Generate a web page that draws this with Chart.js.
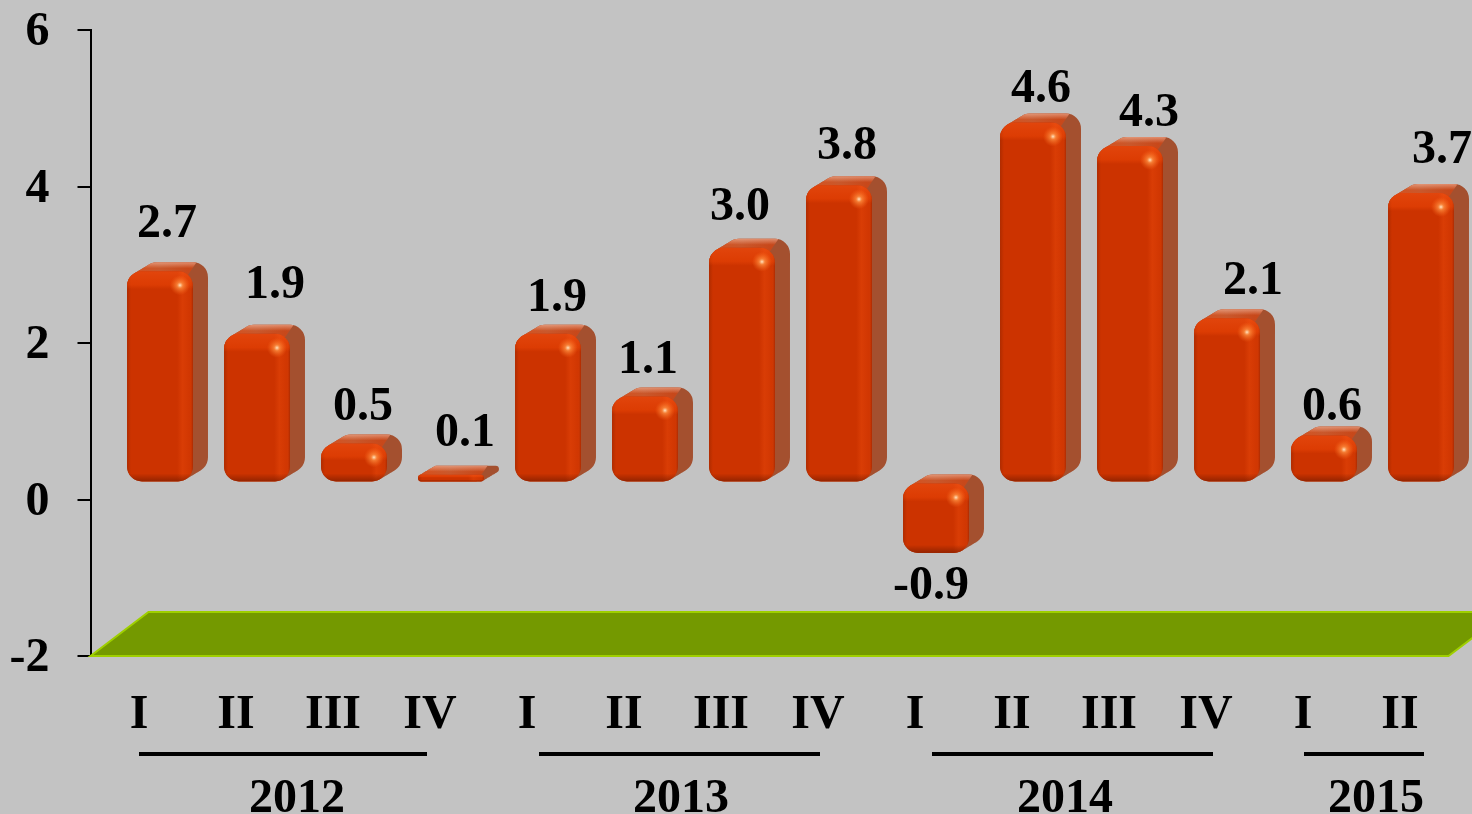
<!DOCTYPE html>
<html>
<head>
<meta charset="utf-8">
<script src="https://cdn.jsdelivr.net/npm/chart.js@4"></script>
<style>
    html, body { margin: 0; padding: 0; background: #c3c3c3; overflow: hidden; }
    canvas { display: block; }
</style>
</head>
<body>
<canvas id="chart" width="1472" height="814"></canvas>
<script>
var quarters = ['I', 'II', 'III', 'IV', 'I', 'II', 'III', 'IV', 'I', 'II', 'III', 'IV', 'I', 'II'];
var growth = [2.7, 1.9, 0.5, 0.1, 1.9, 1.1, 3.0, 3.8, -0.9, 4.6, 4.3, 2.1, 0.6, 3.7];
var years = ['2012', '2013', '2014', '2015'];

var FONT_FAMILY = '"Liberation Serif", serif';
// labels in the picture are nudged by hand, so each one has its own [dx, dy] from the bar end
var labelNudge = [[7, -47], [18, -48], [9, -36], [14, -41], [9, -35], [3, -36], [-2, -40], [8, -39],
    [-5, 34], [8, -33], [19, -32], [26, -37], [8, -28], [21, -42]];
var yearCenters = [297, 681, 1065, 1376];
var yearRules = [[139, 427], [539, 820], [932, 1213], [1304, 1424]];

// front faces sit up and to the right of the axis position
var SHIFT_X = 21, SHIFT_Y = -17;
var DEPTH_X = 15, DEPTH_Y = -9;
var RADIUS = 15;

function barBox(bar) {
    var top = Math.min(bar.y, bar.base);
    var bottom = Math.max(bar.y, bar.base);
    var left = bar.x - bar.width / 2;
    var right = bar.x + bar.width / 2;
    return {
        left: left, right: right, top: top, bottom: bottom,
        r: Math.min(RADIUS, (bottom - top) / 2)
    };
}

function drawDepth(ctx, b) {
    // sweep the front shape backwards to get the side and the top
    ctx.beginPath();
    for (var i = 0; i <= DEPTH_X; i++) {
        var dy = DEPTH_Y * i / DEPTH_X;
        ctx.roundRect(b.left + i, b.top + dy, b.right - b.left, b.bottom - b.top, b.r);
    }
    ctx.fillStyle = '#a4502f';
    ctx.fill();

    ctx.save();
    ctx.clip();
    ctx.beginPath();
    ctx.moveTo(b.left - 2, b.top + DEPTH_Y - 2);
    ctx.lineTo(b.right + DEPTH_X - 10, b.top + DEPTH_Y - 2);
    ctx.lineTo(b.right - 8, b.top + 8);
    ctx.lineTo(b.left - 2, b.top + 14);
    ctx.closePath();
    var grad = ctx.createLinearGradient(b.left, 0, b.right + DEPTH_X, 0);
    grad.addColorStop(0, '#d9501c');
    grad.addColorStop(0.4, '#c9582c');
    grad.addColorStop(0.75, '#c8481a');
    grad.addColorStop(1, '#b9502a');
    ctx.fillStyle = grad;
    ctx.fill();
    // pale rim along the back edge of the top face
    var rim = ctx.createLinearGradient(0, b.top + DEPTH_Y, 0, b.top + DEPTH_Y + 6);
    rim.addColorStop(0, 'rgba(255,225,210,0.45)');
    rim.addColorStop(1, 'rgba(255,225,210,0)');
    ctx.fillStyle = rim;
    ctx.fill();
    ctx.restore();
}

function drawBevel(ctx, b) {
    var w = b.right - b.left;
    var h = b.bottom - b.top;
    ctx.save();
    ctx.beginPath();
    ctx.roundRect(b.left, b.top, w, h, b.r);
    ctx.clip();

    var across = ctx.createLinearGradient(b.left, 0, b.right, 0);
    across.addColorStop(0, 'rgba(140,35,0,0.45)');
    across.addColorStop(0.06, 'rgba(140,35,0,0)');
    across.addColorStop(0.76, 'rgba(255,90,20,0)');
    across.addColorStop(0.84, 'rgba(255,90,20,0.25)');
    across.addColorStop(0.95, 'rgba(255,90,20,0.1)');
    across.addColorStop(1, 'rgba(130,30,0,0.45)');
    ctx.fillStyle = across;
    ctx.fillRect(b.left, b.top, w, h);

    var bevel = Math.min(18, h * 0.45);
    var topBand = ctx.createLinearGradient(0, b.top, 0, b.top + bevel);
    topBand.addColorStop(0, 'rgba(255,95,30,0.42)');
    topBand.addColorStop(0.75, 'rgba(255,80,10,0.32)');
    topBand.addColorStop(1, 'rgba(255,80,10,0)');
    ctx.fillStyle = topBand;
    ctx.fillRect(b.left, b.top, w, bevel);

    var low = Math.min(8, h * 0.3);
    var bottomBand = ctx.createLinearGradient(0, b.bottom - low, 0, b.bottom);
    bottomBand.addColorStop(0, 'rgba(110,25,0,0)');
    bottomBand.addColorStop(1, 'rgba(110,25,0,0.6)');
    ctx.fillStyle = bottomBand;
    ctx.fillRect(b.left, b.bottom - low, w, low);

    if (h > 15) {
        var sx = b.right - 13, sy = b.top + 14;
        var spot = ctx.createRadialGradient(sx, sy, 0, sx, sy, 10);
        spot.addColorStop(0, 'rgba(255,230,195,1)');
        spot.addColorStop(0.3, 'rgba(255,150,70,0.7)');
        spot.addColorStop(1, 'rgba(255,110,30,0)');
        ctx.fillStyle = spot;
        ctx.fillRect(sx - 10, sy - 10, 20, 20);
    }
    ctx.restore();
}

var barsIn3d = {
    id: 'barsIn3d',
    beforeDatasetsDraw: function (chart) {
        // green floor at the bottom of the plot
        var ctx = chart.ctx;
        var area = chart.chartArea;
        ctx.save();
        ctx.beginPath();
        ctx.moveTo(area.left, area.bottom);
        ctx.lineTo(area.left + 58, area.bottom - 44);
        ctx.lineTo(area.right + 58, area.bottom - 44);
        ctx.lineTo(area.right, area.bottom);
        ctx.closePath();
        ctx.fillStyle = '#749900';
        ctx.fill();
        ctx.strokeStyle = '#9fcf00';
        ctx.lineWidth = 2;
        ctx.stroke();
        ctx.restore();
    },
    beforeDatasetDraw: function (chart, args) {
        var ctx = chart.ctx;
        ctx.save();
        ctx.translate(SHIFT_X, SHIFT_Y);
        args.meta.data.forEach(function (bar) {
            drawDepth(ctx, barBox(bar));
        });
    },
    afterDatasetDraw: function (chart, args) {
        var ctx = chart.ctx;
        args.meta.data.forEach(function (bar) {
            drawBevel(ctx, barBox(bar));
        });
        ctx.restore();
    }
};

var valueLabels = {
    id: 'valueLabels',
    afterDatasetsDraw: function (chart) {
        var ctx = chart.ctx;
        var bars = chart.getDatasetMeta(0).data;
        ctx.save();
        ctx.font = 'bold 48px ' + FONT_FAMILY;
        ctx.fillStyle = '#000';
        ctx.textAlign = 'center';
        ctx.textBaseline = 'middle';
        bars.forEach(function (bar, i) {
            var text = growth[i].toFixed(1);
            ctx.fillText(text, bar.x + SHIFT_X + labelNudge[i][0], bar.y + SHIFT_Y + labelNudge[i][1]);
        });
        ctx.restore();
    }
};

var yearAxis = {
    id: 'yearAxis',
    afterDraw: function (chart) {
        var ctx = chart.ctx;
        ctx.save();
        ctx.strokeStyle = '#000';
        ctx.lineWidth = 4;
        yearRules.forEach(function (rule) {
            ctx.beginPath();
            ctx.moveTo(rule[0], 754);
            ctx.lineTo(rule[1], 754);
            ctx.stroke();
        });
        ctx.font = 'bold 48px ' + FONT_FAMILY;
        ctx.fillStyle = '#000';
        ctx.textAlign = 'center';
        ctx.textBaseline = 'alphabetic';
        years.forEach(function (year, i) {
            ctx.fillText(year, yearCenters[i], 812);
        });
        ctx.restore();
    }
};

new Chart(document.getElementById('chart'), {
    type: 'bar',
    data: {
        labels: quarters,
        datasets: [{
            data: growth,
            backgroundColor: '#cc3300',
            borderWidth: 0,
            borderRadius: RADIUS,
            borderSkipped: false,
            barPercentage: 0.68,
            categoryPercentage: 1,
            clip: false
        }]
    },
    options: {
        responsive: false,
        animation: false,
        layout: { autoPadding: false, padding: { top: 30, right: 23.5, bottom: 0, left: 0 } },
        plugins: {
            legend: { display: false },
            tooltip: { enabled: false },
            title: { display: false }
        },
        scales: {
            x: {
                afterFit: function (scale) { scale.height = 158; },
                grid: { display: false },
                border: { display: false },
                ticks: {
                    color: '#000',
                    autoSkip: false,
                    maxRotation: 0,
                    padding: 23,
                    font: { family: FONT_FAMILY, size: 48, weight: 'bold' }
                }
            },
            y: {
                min: -2,
                max: 6,
                afterFit: function (scale) { scale.width = 90.5; scale.paddingTop = 0; scale.paddingBottom = 0; },
                grid: { drawOnChartArea: false, color: '#000', lineWidth: 2, tickLength: 13 },
                border: { color: '#000', width: 2 },
                ticks: {
                    color: '#000',
                    stepSize: 2,
                    padding: 28,
                    labelOffset: 3,
                    font: { family: FONT_FAMILY, size: 48, weight: 'bold' }
                }
            }
        }
    },
    plugins: [barsIn3d, valueLabels, yearAxis]
});
</script>
</body>
</html>
